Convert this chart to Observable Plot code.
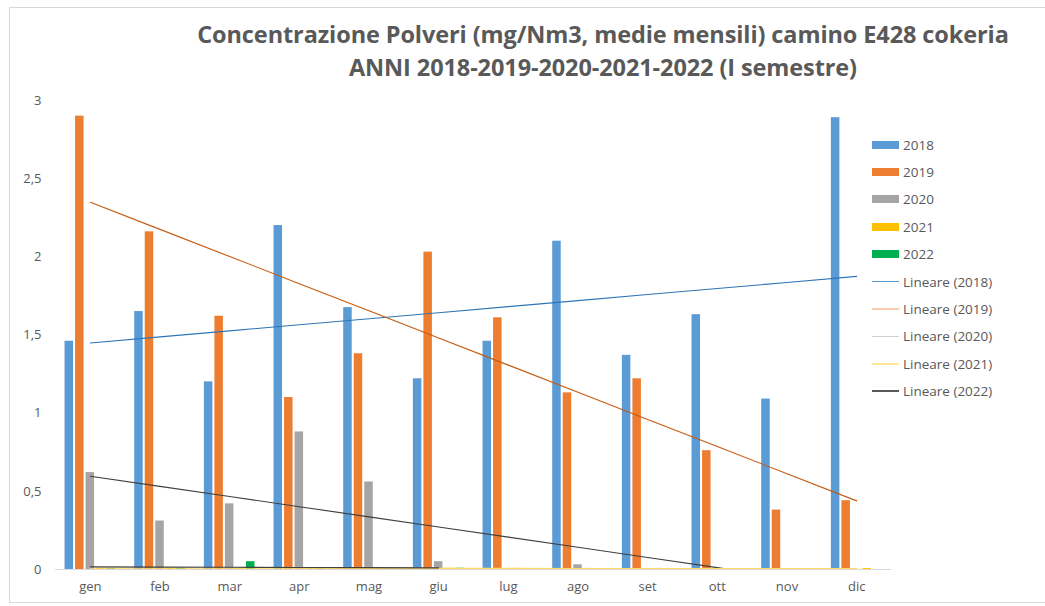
<!DOCTYPE html>
<html>
<head>
<meta charset="utf-8">
<script src="https://cdn.jsdelivr.net/npm/d3@7"></script>
<script src="https://cdn.jsdelivr.net/npm/@observablehq/plot@0.6"></script>
<style>
  html, body { margin: 0; padding: 0; background: #fff; }
  #wrap { position: relative; width: 1045px; height: 606px; overflow: hidden; font-family: "Open Sans", sans-serif; color: #595959; }
  #frame { position: absolute; left: 9px; top: 7px; width: 1100px; height: 596px; border: 1px solid #d9d9d9; box-sizing: border-box; }
  #title { position: absolute; left: 148px; width: 910px; top: 18px; text-align: center; font-weight: bold; font-size: 23.5px; line-height: 33px; color: #595959; letter-spacing: -0.1px; }
  #chart { position: absolute; left: 0; top: 0; }
  #legend { position: absolute; left: 872px; top: 131px; font-size: 13.5px; color: #595959; }
  .row { height: 27.4px; display: flex; align-items: center; }
  .sw { width: 27px; height: 8px; margin-right: 4px; }
  .ln { width: 27px; height: 1.5px; margin-right: 4px; }
</style>
</head>
<body>
<div id="wrap">
  <div id="frame"></div>
  <div id="chart"></div>
  <div id="title">Concentrazione Polveri (mg/Nm3, medie mensili) camino E428 cokeria<br>ANNI 2018-2019-2020-2021-2022 (I semestre)</div>
  <div id="legend"></div>
</div>
<script>
const months = ["gen","feb","mar","apr","mag","giu","lug","ago","set","ott","nov","dic"];
const years = ["2018","2019","2020","2021","2022"];
const v2018 = [1.46, 1.65, 1.20, 2.20, 1.675, 1.22, 1.46, 2.10, 1.37, 1.63, 1.09, 2.89];
const v2019 = [2.90, 2.16, 1.62, 1.10, 1.38, 2.03, 1.61, 1.13, 1.22, 0.76, 0.38, 0.44];
const v2020 = [0.62, 0.31, 0.42, 0.88, 0.56, 0.05, 0.003, 0.03, 0, 0, 0, 0];
const v2021 = [0.008, 0.008, 0.008, 0.007, 0.007, 0.008, 0.007, 0.007, 0.007, 0.006, 0.006, 0.006];
const v2022 = [0.006, 0.008, 0.05, 0.004, 0.006, 0.008];
const barColors = ["#5B9BD5", "#ED7D31", "#A5A5A5", "#FFC000", "#00B050"];
const trendColors = ["#2E75B6", "#C55A11", "#404040", "#FFD966", "#404040"];
const legendTrendColors = ["#5B9BD5", "#F8CBAD", "#D0D0D0", "#FFE699", "#595959"];
const yTicks = [0, 0.5, 1, 1.5, 2, 2.5, 3];

const series = [v2018, v2019, v2020, v2021, v2022];

// layout of grouped bars within each month (in month units)
const slot = 0.151, barW = 0.122;

function fit(vals) {
  const xs = vals.map((_, i) => i + 1);
  const mx = d3.mean(xs), my = d3.mean(vals);
  let sxy = 0, sxx = 0;
  xs.forEach((x, i) => { sxy += (x - mx) * (vals[i] - my); sxx += (x - mx) ** 2; });
  const b = sxy / sxx, a = my - b * mx;
  return xs.map(x => ({x, y: a + b * x}));
}

const marks = [];
marks.push(Plot.ruleY([0], {stroke: "#d9d9d9", strokeWidth: 1}));
series.forEach((vals, k) => {
  const data = vals.map((v, i) => ({m: i + 1, v}));
  marks.push(Plot.rectY(data, {
    x1: d => d.m - 2.5 * slot + k * slot + (slot - barW) / 2,
    x2: d => d.m - 2.5 * slot + k * slot + (slot - barW) / 2 + barW,
    y1: 0, y2: "v", fill: barColors[k]
  }));
});
series.forEach((vals, k) => {
  marks.push(Plot.line(fit(vals), {x: "x", y: "y", stroke: trendColors[k], strokeWidth: 1.1, clip: true}));
});

const chart = Plot.plot({
  width: 1045,
  height: 606,
  marginLeft: 55,
  marginRight: 154,
  marginTop: 100,
  marginBottom: 37,
  style: {fontFamily: "Open Sans, sans-serif", fontSize: "13px", color: "#595959", background: "transparent"},
  x: {domain: [0.5, 12.5], ticks: d3.range(1, 13), tickFormat: i => months[i - 1], tickSize: 0, tickPadding: 12, label: null},
  y: {domain: [0, 3], ticks: yTicks, tickFormat: d => String(d).replace(".", ","), tickSize: 0, tickPadding: 14, label: null},
  marks
});
document.getElementById("chart").appendChild(chart);

const leg = document.getElementById("legend");
years.forEach((y, k) => {
  leg.insertAdjacentHTML("beforeend", `<div class="row"><div class="sw" style="background:${barColors[k]}"></div>${y}</div>`);
});
years.forEach((y, k) => {
  leg.insertAdjacentHTML("beforeend", `<div class="row"><div class="ln" style="background:${legendTrendColors[k]}"></div>Lineare (${y})</div>`);
});
</script>
</body>
</html>
